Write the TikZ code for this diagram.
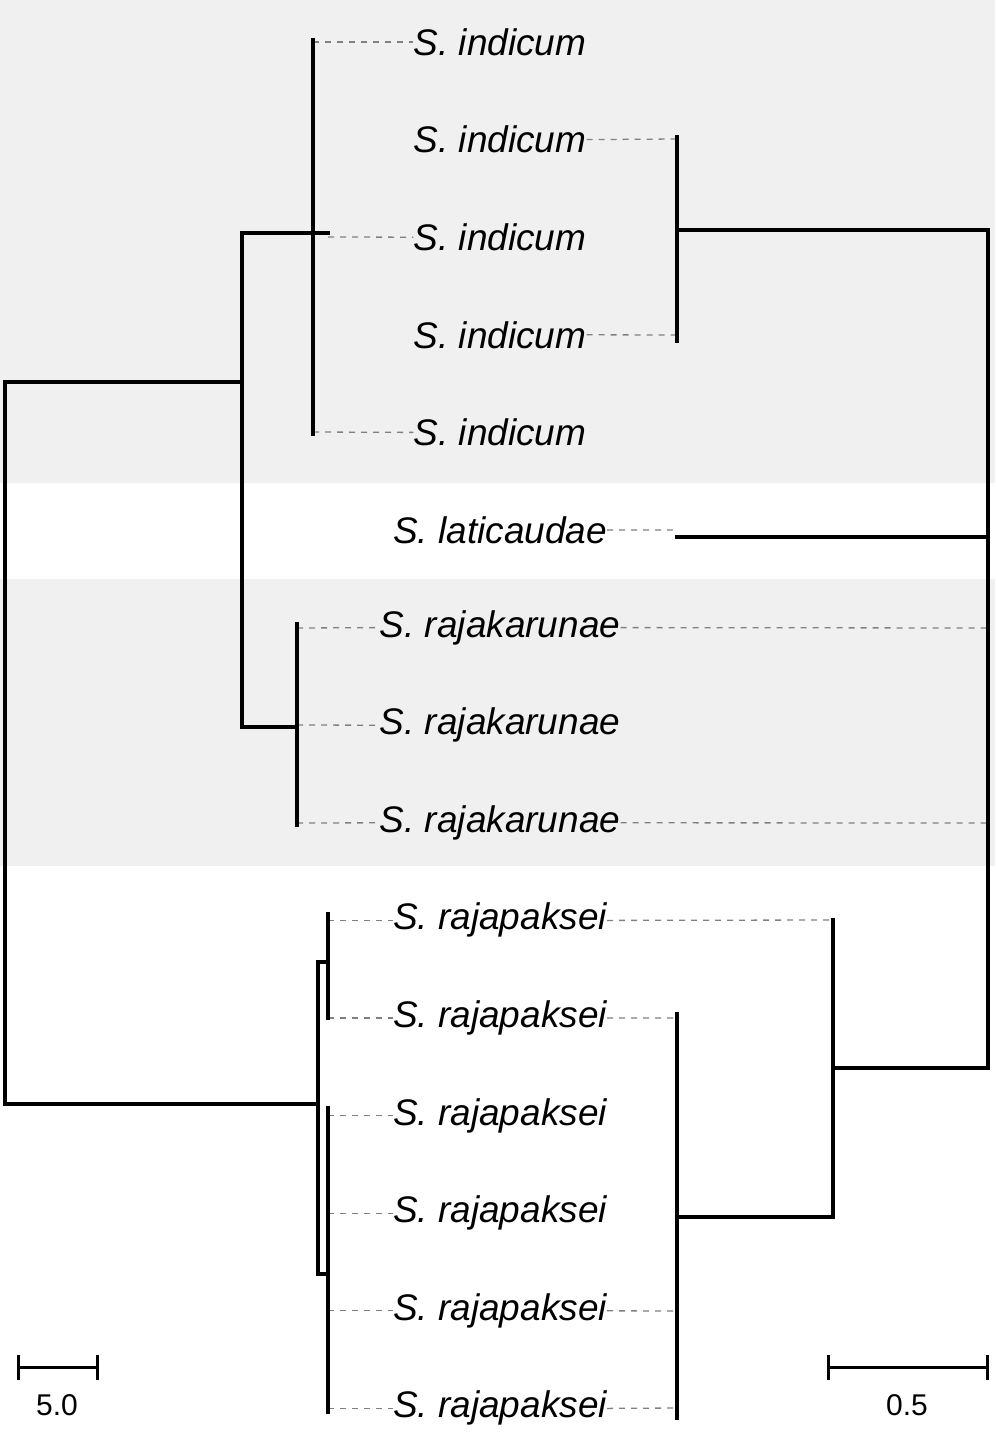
\documentclass[tikz,border=0pt]{standalone}
\usepackage{fontspec}
\setmainfont{Liberation Sans}
\begin{document}
\begin{tikzpicture}[x=1pt,y=-1pt,
  br/.style={line width=3.5pt,line cap=rect},
  dl/.style={gray,line width=1.3pt,dash pattern=on 6pt off 6pt},
  lab/.style={font=\fontsize{37}{40}\selectfont\itshape,inner sep=0pt,anchor=center},
  num/.style={font=\fontsize{30}{34}\selectfont}]
\useasboundingbox (0,0) rectangle (995,1439);
\fill[gray!12] (0,0) rectangle (995,483);
\fill[gray!12] (0,579) rectangle (995,866);
% labels
\foreach \i/\t in {1/indicum,2/indicum,3/indicum,4/indicum,5/indicum,6/laticaudae,7/rajakarunae,8/rajakarunae,9/rajakarunae,10/rajapaksei,11/rajapaksei,12/rajapaksei,13/rajapaksei,14/rajapaksei,15/rajapaksei}
  \node[lab] (t\i) at (500,{42+97.6*(\i-1)}) {S. \t};
% left dashes
\draw[dl] (313,42) -- (t1.west);
\draw[dl] (328,237) -- (t3.west);
\draw[dl] (313,432) -- (t5.west);
\draw[dl] (297,628) -- (t7.west);
\draw[dl] (297,725) -- (t8.west);
\draw[dl] (297,823) -- (t9.west);
\foreach \i in {10,...,15} \draw[dl] (328,{42+97.6*(\i-1)}) -- (t\i.west);
% right dashes
\draw[dl] (t2.east) -- (677,139);
\draw[dl] (t4.east) -- (677,335);
\draw[dl] (t6.east) -- (677,530);
\draw[dl] (t7.east) -- (988,628);
\draw[dl] (t9.east) -- (988,823);
\draw[dl] (t10.east) -- (833,920);
\draw[dl] (t11.east) -- (677,1018);
\draw[dl] (t14.east) -- (677,1311);
\draw[dl] (t15.east) -- (677,1408);
% left tree
\draw[br] (242,382) -- (5,382) -- (5,1104) -- (318,1104);
\draw[br] (328,233) -- (242,233) -- (242,727) -- (297,727);
\draw[br] (313,40) -- (313,434);
\draw[br] (297,624) -- (297,825);
\draw[br] (328,962) -- (318,962) -- (318,1274) -- (328,1274);
\draw[br] (328,914) -- (328,1018);
\draw[br] (328,1108) -- (328,1412);
% right tree
\draw[br] (677,137) -- (677,341);
\draw[br] (677,230) -- (988,230) -- (988,1068) -- (833,1068);
\draw[br] (677,537) -- (988,537);
\draw[br] (833,920) -- (833,1217) -- (677,1217);
\draw[br] (677,1014) -- (677,1418);
% scale bars
\draw[br,line width=3pt] (18,1356) -- (18,1378) (18,1367) -- (97,1367) (97,1356) -- (97,1378);
\node[num] (s1) at (57,1405) {5.0};
\draw[br,line width=3pt] (828,1356) -- (828,1378) (828,1367) -- (987,1367) (987,1356) -- (987,1378);
\node[num] (s2) at (907,1405) {0.5};
\end{tikzpicture}
\end{document}
